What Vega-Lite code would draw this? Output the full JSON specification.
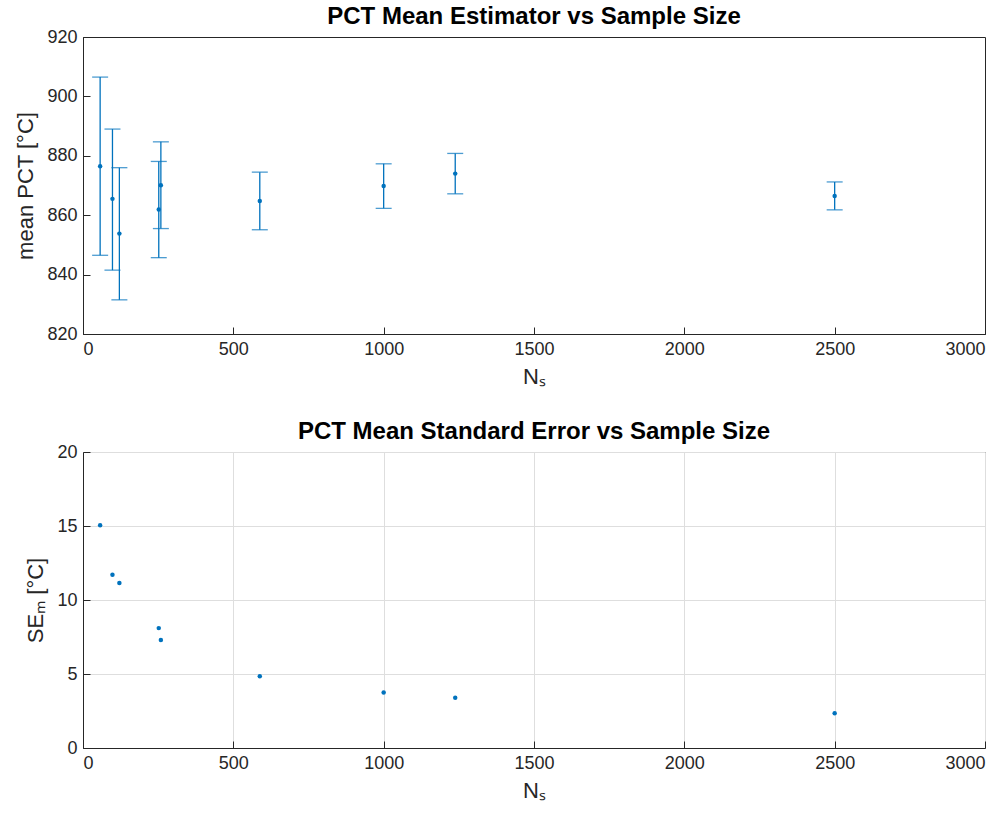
{
  "$schema": "https://vega.github.io/schema/vega-lite/v6.json",
  "background": "white",
  "padding": {"left": 14, "top": 4, "right": 20, "bottom": 5},
  "spacing": 118,
  "bounds": "flush",
  "config": {
    "font": "Liberation Sans",
    "view": {"stroke": "#262626", "strokeWidth": 1},
    "axis": {
      "domainColor": "#262626", "tickColor": "#262626", "labelColor": "#262626", "titleColor": "#262626",
      "labelFont": "Liberation Sans", "labelFontSize": 18, "titleFont": "Liberation Sans", "titleFontSize": 22,
      "titleFontWeight": "normal", "tickSize": -7, "domainWidth": 1, "grid": false, "gridColor": "#dedede",
      "format": "d"
    },
    "title": {"font": "Liberation Sans", "fontSize": 24, "fontWeight": "bold", "color": "black", "offset": -1}
  },
  "datasets": {
    "pct": [
      {"N": 57, "mean": 876.5, "lo": 846.5, "hi": 906.5, "se": 15.05},
      {"N": 98, "mean": 865.5, "lo": 841.5, "hi": 889.0, "se": 11.7},
      {"N": 121, "mean": 853.8, "lo": 831.5, "hi": 876.0, "se": 11.15},
      {"N": 252, "mean": 861.9, "lo": 845.7, "hi": 878.1, "se": 8.1},
      {"N": 259, "mean": 870.1, "lo": 855.5, "hi": 884.7, "se": 7.3},
      {"N": 588, "mean": 864.8, "lo": 855.1, "hi": 874.5, "se": 4.85},
      {"N": 1000, "mean": 869.8, "lo": 862.3, "hi": 877.3, "se": 3.75},
      {"N": 1238, "mean": 874.0, "lo": 867.2, "hi": 880.8, "se": 3.4},
      {"N": 2500, "mean": 866.5, "lo": 861.8, "hi": 871.2, "se": 2.35}
    ]
  },
  "vconcat": [
    {
      "width": 902,
      "height": 297,
      "title": "PCT Mean Estimator vs Sample Size",
      "data": {"name": "pct"},
      "layer": [
        {
          "mark": {"type": "rule", "color": "#0072BD", "strokeWidth": 1.3},
          "encoding": {
            "x": {"field": "N", "type": "quantitative", "scale": {"domain": [0, 3000]},
                  "axis": {"values": [0, 500, 1000, 1500, 2000, 2500, 3000], "title": "Nₛ", "labelPadding": 13, "titlePadding": 8}},
            "y": {"field": "lo", "type": "quantitative", "scale": {"domain": [820, 920]},
                  "axis": {"values": [820, 840, 860, 880, 900, 920], "title": "mean PCT [°C]", "labelPadding": 13, "titlePadding": 9}},
            "y2": {"field": "hi"}
          }
        },
        {
          "mark": {"type": "tick", "orient": "horizontal", "color": "#0072BD", "size": 16, "thickness": 1.3},
          "encoding": {
            "x": {"field": "N", "type": "quantitative"},
            "y": {"field": "hi", "type": "quantitative"}
          }
        },
        {
          "mark": {"type": "tick", "orient": "horizontal", "color": "#0072BD", "size": 16, "thickness": 1.3},
          "encoding": {
            "x": {"field": "N", "type": "quantitative"},
            "y": {"field": "lo", "type": "quantitative"}
          }
        },
        {
          "mark": {"type": "circle", "color": "#0072BD", "size": 20, "opacity": 1},
          "encoding": {
            "x": {"field": "N", "type": "quantitative"},
            "y": {"field": "mean", "type": "quantitative"}
          }
        }
      ]
    },
    {
      "width": 902,
      "height": 296,
      "title": "PCT Mean Standard Error vs Sample Size",
      "data": {"name": "pct"},
      "mark": {"type": "circle", "color": "#0072BD", "size": 20, "opacity": 1},
      "encoding": {
        "x": {"field": "N", "type": "quantitative", "scale": {"domain": [0, 3000]},
              "axis": {"values": [0, 500, 1000, 1500, 2000, 2500, 3000], "title": "Nₛ", "grid": true, "labelPadding": 13, "titlePadding": 8}},
        "y": {"field": "se", "type": "quantitative", "scale": {"domain": [0, 20]},
              "axis": {"values": [0, 5, 10, 15, 20], "title": "SEₘ [°C]", "grid": true, "labelPadding": 13, "titlePadding": 9}}
      }
    }
  ]
}
